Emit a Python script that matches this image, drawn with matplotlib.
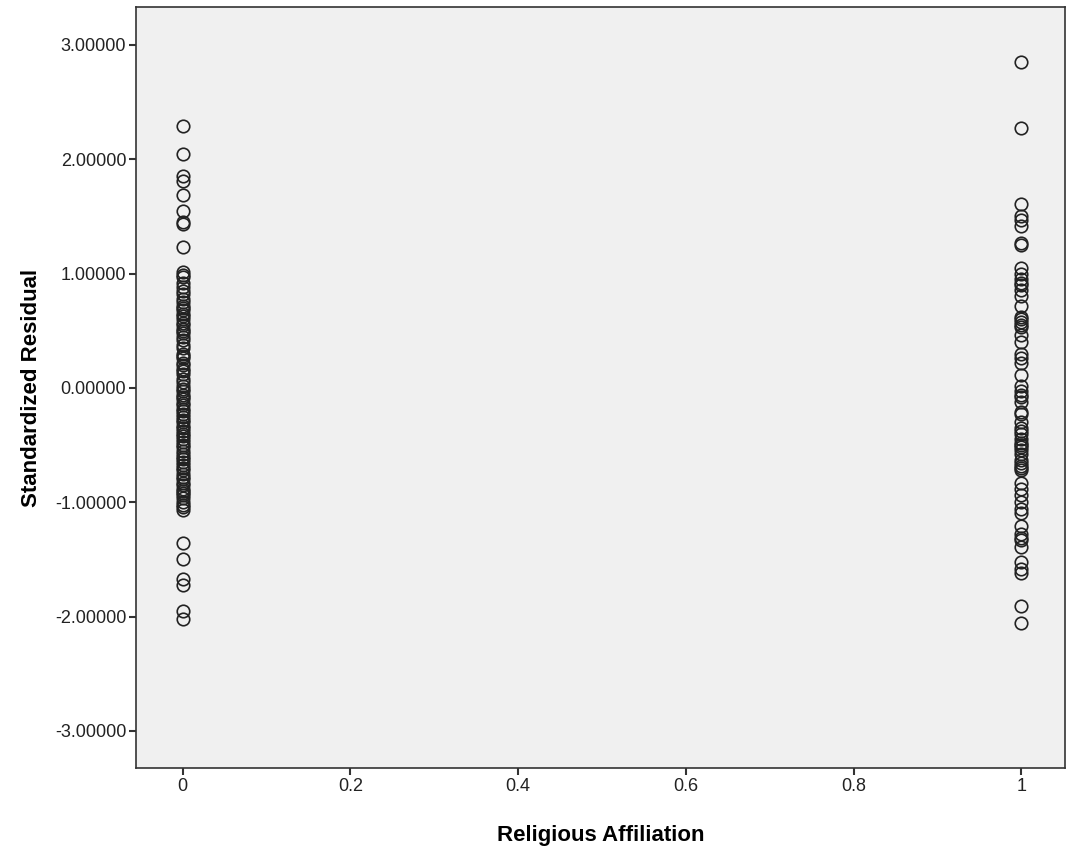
import matplotlib
matplotlib.use("Agg")
import matplotlib.pyplot as plt
import numpy as np

# residuals, group 0 and group 1
resid_0 = [2.29, 2.05, 1.85, 1.81, 1.69, 1.55, 1.45, 1.43, 1.23, 1.01, 0.99,
           0.97, 0.92, 0.88, 0.85, 0.82, 0.78, 0.75, 0.72, 0.70, 0.68, 0.65,
           0.63, 0.60, 0.57, 0.55, 0.52, 0.50, 0.48, 0.45, 0.42, 0.38, 0.35,
           0.30, 0.28, 0.26, 0.22, 0.20, 0.17, 0.15, 0.12, 0.08, 0.05, 0.02,
           -0.01, -0.03, -0.06, -0.08, -0.10, -0.13, -0.15, -0.18, -0.20,
           -0.23, -0.25, -0.28, -0.30, -0.33, -0.35, -0.38, -0.40, -0.42,
           -0.45, -0.47, -0.50, -0.52, -0.55, -0.58, -0.60, -0.62, -0.65,
           -0.67, -0.70, -0.72, -0.75, -0.78, -0.80, -0.83, -0.85, -0.88,
           -0.90, -0.92, -0.94, -0.96, -1.00, -1.02, -1.04, -1.07,
           -1.36, -1.50, -1.67, -1.72, -1.95, -2.02]
resid_1 = [2.85, 2.27, 1.61, 1.50, 1.47, 1.42, 1.27, 1.25, 1.05, 1.00, 0.95,
           0.92, 0.90, 0.86, 0.80, 0.72, 0.62, 0.60, 0.58, 0.55, 0.53, 0.46,
           0.40, 0.30, 0.26, 0.22, 0.11, 0.02, -0.03, -0.06, -0.08, -0.12,
           -0.21, -0.23, -0.30, -0.35, -0.38, -0.40, -0.45, -0.48, -0.50,
           -0.52, -0.54, -0.58, -0.63, -0.66, -0.68, -0.70, -0.72, -0.83,
           -0.88, -0.94, -1.00, -1.06, -1.09, -1.21, -1.28, -1.31, -1.33,
           -1.39, -1.52, -1.58, -1.62, -1.91, -2.06]
affil_0 = [0] * len(resid_0)
affil_1 = [1] * len(resid_1)

yticks = [-3, -2, -1, 0, 1, 2, 3]
xticks = [0, 0.2, 0.4, 0.6, 0.8, 1]
xticklabels = ["0", "0.2", "0.4", "0.6", "0.8", "1"]

plt.rcParams['font.family'] = ['Liberation Sans', 'DejaVu Sans']

fig = plt.figure(figsize=(10.68, 8.57), dpi=100)
ax = fig.add_axes([0.1273, 0.1039, 0.9972 - 0.1273, 0.9918 - 0.1039])
ax.set_facecolor('#f0f0f0')

for xs, ys in [(affil_0, resid_0), (affil_1, resid_1)]:
    ax.plot(xs, ys, linestyle='none', marker='o', markersize=9,
            markerfacecolor='none', markeredgecolor='#222222', markeredgewidth=1.2)

ax.set_xlim(-0.0556, 1.052)
ax.set_ylim(-3.324, 3.332)
ax.set_yticks(yticks)
ax.set_yticklabels(["%.5f" % v for v in yticks])
ax.set_xticks(xticks)
ax.set_xticklabels(xticklabels)
ax.tick_params(direction='out', length=5, width=1.5, labelsize=13, color='#333333',
               labelcolor='#222222', pad=2)

for s in ax.spines.values():
    s.set_linewidth(1.2)
    s.set_color('#333333')

ax.set_xlabel("Religious Affiliation", fontsize=16, fontweight='bold', labelpad=22)
ax.set_ylabel("Standardized Residual", fontsize=16, fontweight='bold', labelpad=9)

fig.savefig("out.png", dpi=100)
